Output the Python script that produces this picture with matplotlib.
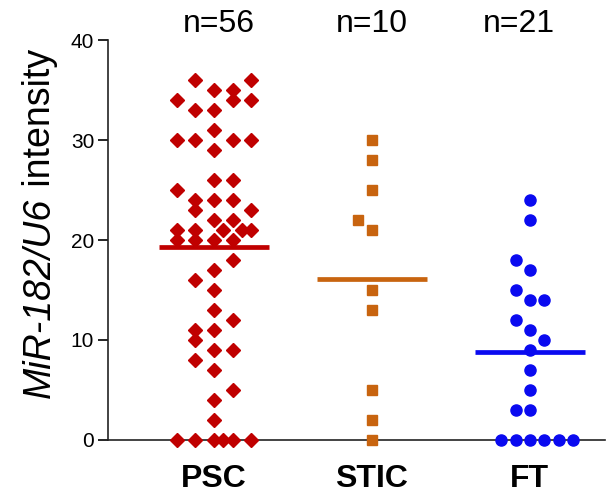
import numpy as np
import matplotlib
matplotlib.use('Agg')
from matplotlib import pyplot as plt

plt.rcParams['font.family'] = ['Liberation Sans', 'DejaVu Sans']

# groups and their n labels
groups = ['PSC', 'STIC', 'FT']
n_labels = ['n=56', 'n=10', 'n=21']

# values
psc = [36, 36, 35, 35, 34, 34, 34, 33, 33, 31, 30, 30, 30, 30, 29, 26, 26, 25,
       24, 24, 24, 23, 23, 22, 22, 21, 21, 21, 21, 21, 20, 20, 20, 20,
       18, 17, 16, 15, 13, 12, 11, 11, 10, 9, 9, 8, 7, 5, 4, 2,
       0, 0, 0, 0, 0, 0]
stic = [30, 28, 25, 22, 21, 15, 13, 5, 2, 0]
ft = [24, 22, 18, 17, 15, 14, 14, 12, 11, 10, 9, 7, 5, 3, 3,
      0, 0, 0, 0, 0, 0]

# horizontal scatter of each point (in marker steps), as seen in the picture
psc_spread = [-1, 2, 0, 1, -2, 1, 2, -1, 0, 0, -2, -1, 1, 2, 0, 0, 1, -2,
              -1, 0, 1, -1, 2, 0, 1, -2, -1, 0.5, 1.5, 2, -2, -1, 0, 1,
              1, 0, -1, 0, 0, 1, -1, 0, -1, 0, 1, -1, 0, 1, 0, 0,
              -2, -1, 0, 0.5, 1, 2]
stic_spread = [0, 0, 0, -1, 0, 0, 0, 0, 0, 0]
ft_spread = [0, 0, -1, 0, -1, 0, 1, -1, 0, 1, 0, 0, 0, -1, 0,
             -2, -1, 0, 1, 2, 3]

data = [psc, stic, ft]
spreads = [psc_spread, stic_spread, ft_spread]
steps = [0.118, 0.09, 0.091]
markers = ['D', 's', 'o']
sizes = [6.8, 7.5, 8]
colors = ['#C00000', '#C8640F', '#0A0AF0']

fig = plt.figure(figsize=(6.12, 4.97), dpi=100)
ax = fig.add_axes([0.1765, 0.1147, 0.812, 0.8048])

x = np.arange(1, len(groups) + 1)
for i in range(len(groups)):
    xs = x[i] + np.array(spreads[i]) * steps[i]
    ax.plot(xs, data[i], linestyle='none', marker=markers[i], ms=sizes[i],
            color=colors[i], mec=colors[i], clip_on=False, zorder=3)
    m = np.mean(data[i])
    ax.plot([x[i] - 0.35, x[i] + 0.35], [m, m], color=colors[i], lw=3.4,
            solid_capstyle='butt', zorder=4)

ax.set_xlim(0.33, 3.475)
ax.set_ylim(0, 40)
ax.set_yticks([0, 10, 20, 30, 40])
ax.tick_params(axis='y', labelsize=15, length=7, width=1.2, pad=3)
ax.set_xticks(x)
ax.set_xticklabels(groups, fontsize=23, fontweight='bold')
ax.tick_params(axis='x', length=0, pad=17)

for s in ['top', 'right']:
    ax.spines[s].set_visible(False)
for s in ['left', 'bottom']:
    ax.spines[s].set_linewidth(1.2)
    ax.spines[s].set_color('#222222')

# n labels above the axes
n_x = [1.03, 2.0, 2.93]
for xi, lab in zip(n_x, n_labels):
    ax.text(xi, 1.04, lab, transform=ax.get_xaxis_transform(), ha='center',
            va='center', fontsize=23)

# y label: italic gene names, then plain word on top
ylab_it = 'MiR-182/U6'
ylab_rest = ' intensity'
t1 = fig.text(0.065, 0.2, ylab_it, rotation=90, ha='center', va='bottom',
              fontsize=27, style='italic')
fig.canvas.draw()
bb = t1.get_window_extent()
fig.text(0.065, bb.y1 / fig.bbox.height, ylab_rest, rotation=90,
         ha='center', va='bottom', fontsize=27)

fig.savefig('out.png', dpi=100)
